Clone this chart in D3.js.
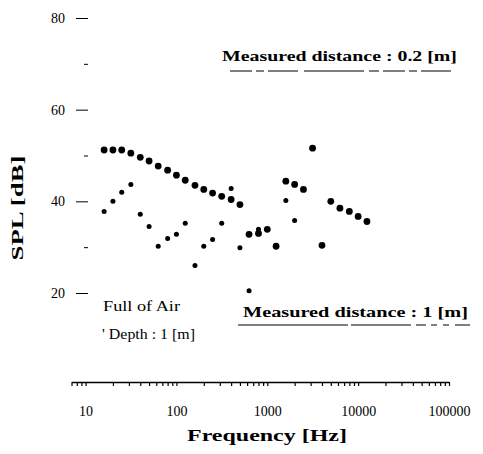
<!DOCTYPE html>
<html>
<head>
<meta charset="utf-8">
<script src="https://cdn.jsdelivr.net/npm/d3@7"></script>
<style>
  body { margin: 0; background: #fff; }
  svg { display: block; }
  text { font-family: "Liberation Serif", "Times New Roman", serif; fill: #000; }
</style>
</head>
<body>
<svg id="chart" width="483" height="454"></svg>
<script>
// 1/3 octave band data
const nearFreq = [16, 20, 25, 31.5, 40, 50, 63, 80, 100, 125, 160, 200, 250, 315, 400, 500,
                  630, 800, 1000, 1250, 1600, 2000, 2500, 3150, 4000, 5000, 6300, 8000, 10000, 12500];
const nearSpl = [51.2, 51.2, 51.2, 50.5, 49.6, 48.8, 47.7, 46.8, 45.7, 44.6, 43.5, 42.6, 41.8, 41.1, 40.4, 39.3,
                 32.8, 33.0, 33.9, 30.2, 44.4, 43.7, 42.6, 51.6, 30.4, 40.0, 38.5, 37.8, 36.7, 35.6];
const farFreq = [16, 20, 25, 31.5, 40, 50, 63, 80, 100, 125, 160, 200, 250, 315, 400, 500, 630, 800, 1600, 2000];
const farSpl = [37.8, 40.0, 42.0, 43.7, 37.2, 34.5, 30.2, 31.9, 32.8, 35.2, 26.0, 30.2, 31.7, 35.2, 42.8, 29.9,
                20.5, 33.9, 40.2, 35.8];
const xLabels = [10, 100, 1000, 10000, 100000];
const yMajor = [20, 40, 60, 80];
const yMinor = [30, 50, 70];

const svg = d3.select("#chart");
const x = d3.scaleLog().domain([7, 100000]).range([71.5, 449]);
const y = d3.scaleLinear().domain([20, 80]).range([293, 18]);
const axisY = 382;

// x axis: line + log ticks pointing down
let xAxis = svg.append("g")
    .attr("transform", `translate(0,${axisY})`)
    .call(d3.axisBottom(x).tickValues(x.ticks()).tickSize(4).tickSizeOuter(0).tickFormat(""));
xAxis.select(".domain").attr("stroke-width", 1.6);
xAxis.selectAll(".tick line").attr("stroke-width", 1.2);

svg.append("g")
    .attr("transform", `translate(0,${axisY})`)
    .call(d3.axisBottom(x).tickValues(xLabels).tickSize(0).tickPadding(24).tickFormat(d3.format("d")))
    .call(g => g.select(".domain").remove())
    .selectAll("text")
    .style("font-size", "14px")
    .style("font-family", "'Liberation Serif', serif");

// y axis: no spine, dashes only
svg.append("g")
    .attr("transform", "translate(88,0)")
    .call(d3.axisLeft(y).tickValues(yMajor).tickSize(12).tickPadding(11))
    .call(g => g.select(".domain").remove())
    .selectAll("text")
    .style("font-size", "14px")
    .style("font-family", "'Liberation Serif', serif");

svg.append("g")
    .attr("transform", "translate(88,0)")
    .call(d3.axisLeft(y).tickValues(yMinor).tickSize(4).tickFormat(""))
    .call(g => g.select(".domain").remove());

// points
svg.append("g").selectAll("circle")
    .data(nearFreq.map((f, i) => ({ f: f, v: nearSpl[i] })))
    .join("circle")
    .attr("cx", d => x(d.f))
    .attr("cy", d => y(d.v))
    .attr("r", 3.4)
    .attr("fill", "#000");

svg.append("g").selectAll("circle")
    .data(farFreq.map((f, i) => ({ f: f, v: farSpl[i] })))
    .join("circle")
    .attr("cx", d => x(d.f))
    .attr("cy", d => y(d.v))
    .attr("r", 2.5)
    .attr("fill", "#000");

// axis titles
svg.append("text")
    .attr("x", 267).attr("y", 441)
    .attr("text-anchor", "middle")
    .style("font-size", "17px").style("font-weight", "bold")
    .attr("textLength", 160).attr("lengthAdjust", "spacingAndGlyphs")
    .text("Frequency  [Hz]");

svg.append("text")
    .attr("transform", "translate(23,208) rotate(-90)")
    .attr("text-anchor", "middle")
    .style("font-size", "17px").style("font-weight", "bold")
    .attr("textLength", 105).attr("lengthAdjust", "spacingAndGlyphs")
    .text("SPL [dB]");

// annotations
svg.append("text")
    .attr("x", 222).attr("y", 61)
    .style("font-size", "15px").style("font-weight", "bold")
    .attr("textLength", 235).attr("lengthAdjust", "spacingAndGlyphs")
    .text("Measured distance : 0.2 [m]");
svg.append("line")
    .attr("x1", 230).attr("x2", 457).attr("y1", 71).attr("y2", 71)
    .attr("stroke", "#000").attr("stroke-width", 1.1)
    .attr("stroke-dasharray", "22,4,8,4,30,6,60,5,10,4");

svg.append("text")
    .attr("x", 243).attr("y", 317)
    .style("font-size", "15px").style("font-weight", "bold")
    .attr("textLength", 225).attr("lengthAdjust", "spacingAndGlyphs")
    .text("Measured distance : 1 [m]");
svg.append("line")
    .attr("x1", 238).attr("x2", 470).attr("y1", 325).attr("y2", 325)
    .attr("stroke", "#000").attr("stroke-width", 1.1)
    .attr("stroke-dasharray", "110,3,60,5,10,5,6,6,6,6");

svg.append("text")
    .attr("x", 103).attr("y", 311)
    .style("font-size", "14px")
    .attr("textLength", 77).attr("lengthAdjust", "spacingAndGlyphs")
    .text("Full of Air");

svg.append("text")
    .attr("x", 102).attr("y", 339)
    .style("font-size", "14px")
    .attr("textLength", 93).attr("lengthAdjust", "spacingAndGlyphs")
    .text("' Depth : 1 [m]");
</script>
</body>
</html>
